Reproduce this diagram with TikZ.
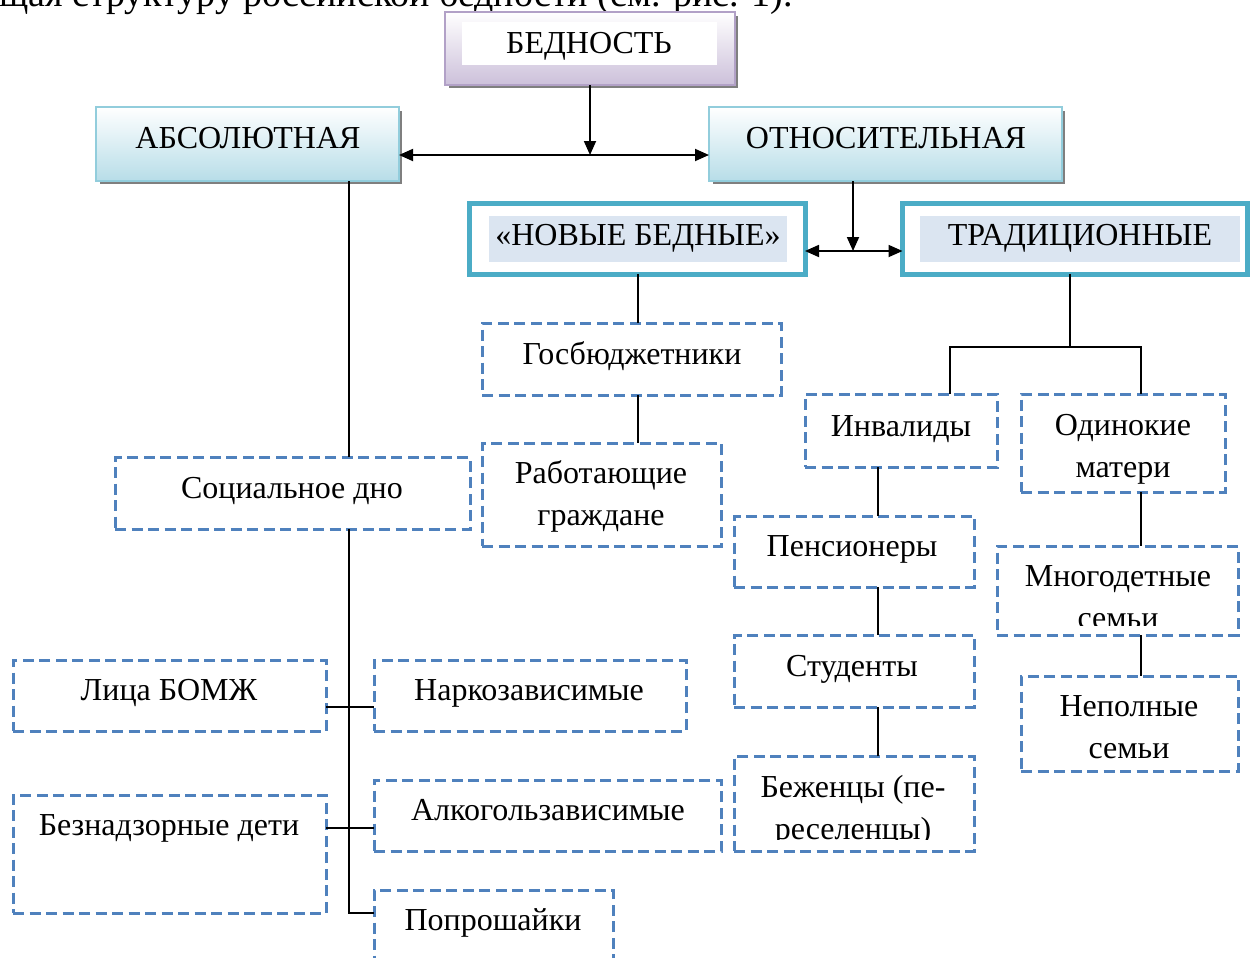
\documentclass[tikz,border=0pt]{standalone}
\usepackage{fontspec}
\setmainfont{Liberation Serif}
\usetikzlibrary{arrows.meta,fit}
\definecolor{dblue}{HTML}{4F81BD}
\definecolor{tealb}{HTML}{4BACC6}
\definecolor{lblue}{HTML}{B7DDE8}
\definecolor{lbord}{HTML}{92CDDC}
\definecolor{lav}{HTML}{CCC0DA}
\definecolor{lavb}{HTML}{B2A1C7}
\definecolor{innerfill}{HTML}{DBE5F1}
\definecolor{shadowc}{HTML}{7F7F7F}
\begin{document}
\begin{tikzpicture}[x=1pt,y=-1pt,
  txt/.style={font=\fontsize{32}{42}\selectfont, inner sep=0, anchor=base},
  boxbase/.style={inner sep=0, outer sep=0},
  dbox/.style={boxbase, draw=dblue, line width=3pt, dash pattern=on 11pt off 5.5pt},
  gbox/.style={boxbase, draw=lbord, line width=2pt, top color=white, bottom color=lblue},
  pbox/.style={boxbase, draw=lavb, line width=2pt, top color=white, bottom color=lav},
  tbox/.style={boxbase, draw=tealb, line width=5pt, fill=white},
  shadowbox/.style={fill=shadowc},
  conn/.style={line width=1.8pt, black},
  arr/.style={conn, -{Triangle[length=14pt,width=12pt]}},
  darr/.style={conn, {Triangle[length=14pt,width=12pt]}-{Triangle[length=14pt,width=12pt]}}
]
\path[use as bounding box] (0,0) rectangle (1250,958);
\clip (0,0) rectangle (1250,958);
\fill[white] (0,0) rectangle (1250,958);

% cut-off line of running text
\node[txt, anchor=base west, font=\fontsize{38}{44}\selectfont] (run) at (-1,7) {щая структуру российской бедности (см. рис. 1).};

% top level
\fill[shadowbox] (449,16) rectangle (738,88);
\node[pbox, fit={(445,12) (735,85)}] (bed) {};
\fill[white] (462,22) rectangle (717,65);
\node[txt] (bedt) at (589,53) {БЕДНОСТЬ};

\fill[shadowbox] (100,111) rectangle (402,184);
\node[gbox, fit={(96,107) (399,181)}] (abs) {};
\node[txt] (abst) at (248,148) {АБСОЛЮТНАЯ};

\fill[shadowbox] (713,111) rectangle (1065,184);
\node[gbox, fit={(709,107) (1062,181)}] (rel) {};
\node[txt] (relt) at (886,148) {ОТНОСИТЕЛЬНАЯ};

\coordinate (j1) at (590,155);
\draw[arr] (bed.south -| j1) -- (j1);
\draw[darr] (abs.east |- j1) -- (rel.west |- j1);

% second level
\node[tbox, fit={(469.5,203.5) (805,274)}] (nb) {};
\fill[innerfill] (489,216) rectangle (787,262);
\node[txt] (nbt) at (638,245) {«НОВЫЕ БЕДНЫЕ»};

\node[tbox, fit={(902.5,203.5) (1247.5,274)}] (trad) {};
\fill[innerfill] (920,216) rectangle (1240,262);
\node[txt] (tradt) at (1080,245) {ТРАДИЦИОННЫЕ};

\coordinate (j2) at (853,251);
\draw[arr] (rel.south -| j2) -- (j2);
\draw[darr] (nb.east |- j2) -- (trad.west |- j2);

% new poor branch
\node[dbox, fit={(482,323) (781,395)}] (gos) {};
\node[txt] at (632,364) {Госбюджетники};
\node[dbox, fit={(482,443) (721,546)}] (rab) {};
\node[txt] at (601,483) {Работающие};
\node[txt] at (601,525) {граждане};
\draw[conn] (nb.south -| 638,0) -- (gos.north -| 638,0);
\draw[conn] (gos.south -| 638,0) -- (rab.north -| 638,0);

% traditional branch
\node[dbox, fit={(805,394) (997,467)}] (inv) {};
\node[txt] at (901,436) {Инвалиды};
\node[dbox, fit={(1021,394) (1225,492)}] (odin) {};
\node[txt] at (1123,435) {Одинокие};
\node[txt] at (1123,477) {матери};
\coordinate (t1) at (1070,347);
\draw[conn] (trad.south -| t1) -- (t1);
\draw[conn] (inv.north -| 950,0) |- (t1) -| (odin.north -| 1141,0);

\node[dbox, fit={(734,516) (974,587)}] (pens) {};
\node[txt] at (852,556) {Пенсионеры};
\node[dbox, fit={(734,635) (974,707)}] (stud) {};
\node[txt] at (852,676) {Студенты};
\node[dbox, fit={(734,756) (974,851)}] (bezh) {};
\begin{scope}
  \clip (734,756) rectangle (974,839);
  \node[txt] at (853,797) {Беженцы (пе-};
  \node[txt] at (853,839) {реселенцы)};
\end{scope}
\draw[conn] (inv.south -| 878,0) -- (pens.north -| 878,0);
\draw[conn] (pens.south -| 878,0) -- (stud.north -| 878,0);
\draw[conn] (stud.south -| 878,0) -- (bezh.north -| 878,0);

\node[dbox, fit={(997,546) (1238,635)}] (mnog) {};
\begin{scope}
  \clip (997,546) rectangle (1238,625);
  \node[txt] at (1118,586) {Многодетные};
  \node[txt] at (1118,628) {семьи};
\end{scope}
\node[dbox, fit={(1021,676) (1238,771)}] (nepol) {};
\node[txt] at (1129,716) {Неполные};
\node[txt] at (1129,758) {семьи};
\draw[conn] (odin.south -| 1141,0) -- (mnog.north -| 1141,0);
\draw[conn] (mnog.south -| 1141,0) -- (nepol.north -| 1141,0);

% absolute branch
\node[dbox, fit={(115,457) (470,529)}] (soc) {};
\node[txt] at (292,498) {Социальное дно};
\draw[conn] (abs.south -| 349,0) -- (soc.north -| 349,0);

\node[dbox, fit={(13,660) (326,731)}] (bomzh) {};
\node[txt] at (169,700) {Лица БОМЖ};
\node[dbox, fit={(374,660) (686,731)}] (nark) {};
\node[txt] at (529,700) {Наркозависимые};
\node[dbox, fit={(13,795) (326,913)}] (bezn) {};
\node[txt] at (169,835) {Безнадзорные дети};
\node[dbox, fit={(374,780) (721,851)}] (alk) {};
\node[txt] at (548,820) {Алкогользависимые};
\node[dbox, fit={(374,890) (613,990)}] (pop) {};
\node[txt] at (493,930) {Попрошайки};

\coordinate (s1) at (349,913);
\draw[conn] (soc.south -| s1) -- (s1) -- (pop.west |- s1);
\draw[conn] (bomzh.east |- 0,707) -- (nark.west |- 0,707);
\draw[conn] (bezn.east |- 0,828) -- (alk.west |- 0,828);
\end{tikzpicture}
\end{document}
